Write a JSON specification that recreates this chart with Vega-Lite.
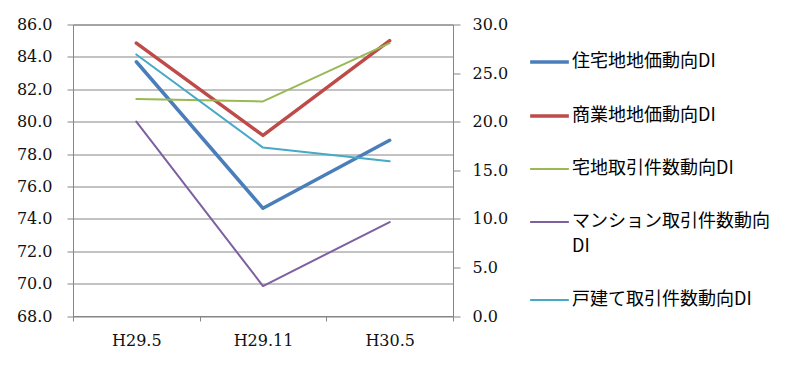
{
  "$schema": "https://vega.github.io/schema/vega-lite/v6.json",
  "width": 380,
  "height": 291.5,
  "autosize": {"type": "none"},
  "padding": {"left": 73, "top": 24.5, "right": 347, "bottom": 51},
  "background": "white",
  "config": {
    "view": {"stroke": "#868686", "strokeWidth": 1},
    "axis": {
      "labelFont": "DejaVu Serif",
      "labelFontSize": 16,
      "labelColor": "#111111",
      "domainColor": "#868686",
      "tickColor": "#868686",
      "gridColor": "#868686",
      "title": null
    }
  },
  "data": {
    "values": [
      {"period": "H29.5", "series": "住宅地地価動向DI", "value": 83.7},
      {"period": "H29.11", "series": "住宅地地価動向DI", "value": 74.65},
      {"period": "H30.5", "series": "住宅地地価動向DI", "value": 78.85},
      {"period": "H29.5", "series": "商業地地価動向DI", "value": 84.85},
      {"period": "H29.11", "series": "商業地地価動向DI", "value": 79.15},
      {"period": "H30.5", "series": "商業地地価動向DI", "value": 85.0},
      {"period": "H29.5", "series": "宅地取引件数動向DI", "value": 81.4},
      {"period": "H29.11", "series": "宅地取引件数動向DI", "value": 81.25},
      {"period": "H30.5", "series": "宅地取引件数動向DI", "value": 84.85},
      {"period": "H29.5", "series": "マンション取引件数動向DI", "value": 80.0},
      {"period": "H29.11", "series": "マンション取引件数動向DI", "value": 69.85},
      {"period": "H30.5", "series": "マンション取引件数動向DI", "value": 73.8},
      {"period": "H29.5", "series": "戸建て取引件数動向DI", "value": 84.15},
      {"period": "H29.11", "series": "戸建て取引件数動向DI", "value": 78.4},
      {"period": "H30.5", "series": "戸建て取引件数動向DI", "value": 77.55}
    ]
  },
  "layer": [
    {
      "mark": {"type": "line", "strokeCap": "round", "strokeJoin": "round"},
      "encoding": {
        "x": {
          "field": "period",
          "type": "ordinal",
          "sort": ["H29.5", "H29.11", "H30.5"],
          "scale": {"type": "band", "paddingInner": 0, "paddingOuter": 0},
          "axis": {
            "labelAngle": 0,
            "tickBand": "extent",
            "tickSize": 5,
            "labelPadding": 11,
            "grid": false,
            "domain": true
          }
        },
        "y": {
          "field": "value",
          "type": "quantitative",
          "scale": {"domain": [68, 86], "nice": false, "zero": false},
          "axis": {
            "orient": "left",
            "values": [68, 70, 72, 74, 76, 78, 80, 82, 84, 86],
            "format": ".1f",
            "tickSize": 6,
            "labelPadding": 15,
            "grid": true
          }
        },
        "color": {
          "field": "series",
          "type": "nominal",
          "scale": {
            "domain": ["住宅地地価動向DI", "商業地地価動向DI", "宅地取引件数動向DI", "マンション取引件数動向DI", "戸建て取引件数動向DI"],
            "range": ["#4A7EBB", "#BE4B48", "#98B954", "#7D60A0", "#46AAC5"]
          },
          "legend": {
            "orient": "none",
            "legendX": 455,
            "legendY": 16,
            "title": null,
            "padding": 0,
            "symbolType": "stroke",
            "symbolSize": 1500,
            "labelFont": "Noto Sans CJK JP",
            "labelFontSize": 18,
            "labelColor": "#000000",
            "labelOffset": 1,
            "labelLimit": 300,
            "rowPadding": 23,
            "labelExpr": "datum.label == 'マンション取引件数動向DI' ? ['マンション取引件数動向', 'DI'] : datum.label",
            "encode": {"labels": {"update": {"lineHeight": {"value": 25}}}}
          }
        },
        "strokeWidth": {
          "field": "series",
          "type": "nominal",
          "scale": {
            "type": "ordinal",
            "domain": ["住宅地地価動向DI", "商業地地価動向DI", "宅地取引件数動向DI", "マンション取引件数動向DI", "戸建て取引件数動向DI"],
            "range": [3.5, 3.5, 2, 2, 2]
          }
        }
      }
    },
    {
      "data": {"values": [{"r": 0}, {"r": 30}]},
      "mark": {"type": "rule", "opacity": 0},
      "encoding": {
        "y": {
          "field": "r",
          "type": "quantitative",
          "scale": {"domain": [0, 30], "nice": false, "zero": false},
          "axis": {
            "orient": "right",
            "values": [0, 5, 10, 15, 20, 25, 30],
            "format": ".1f",
            "tickSize": 7,
            "labelPadding": 12,
            "grid": false
          }
        }
      }
    }
  ],
  "resolve": {"scale": {"y": "independent"}, "axis": {"y": "independent"}}
}
